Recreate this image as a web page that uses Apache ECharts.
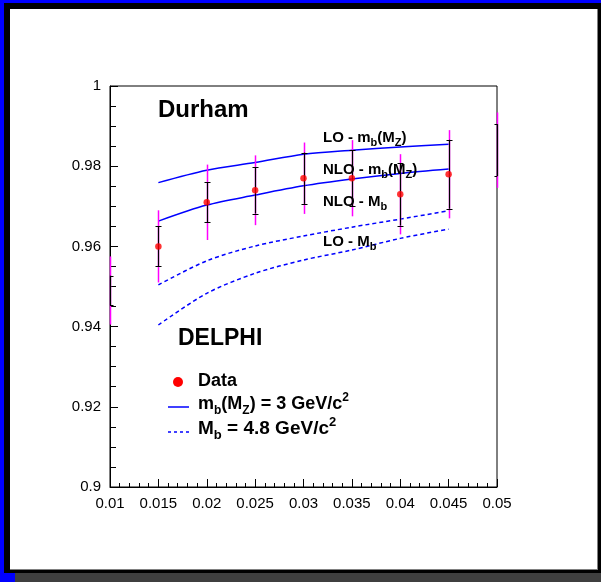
<!DOCTYPE html>
<html><head><meta charset="utf-8">
<script src="https://cdn.jsdelivr.net/npm/echarts@6/dist/echarts.min.js"></script>
<style>html,body{margin:0;padding:0;background:#fff}#c{width:601px;height:582px}</style>
</head><body><div id="c"></div>
<script>
// ---- data ----
const xTicksMin = 0.01, xTicksMax = 0.05;
const yTicksMin = 0.9, yTicksMax = 1;
const dataX    = [0.01, 0.015, 0.02, 0.025, 0.03, 0.035, 0.04, 0.045, 0.05];
const dataY    = [0.949, 0.960, 0.971, 0.974, 0.977, 0.977, 0.973, 0.978, 0.984];
const statErr  = [0.0037, 0.005, 0.005, 0.0058, 0.0064, 0.007, 0.0078, 0.0086, 0.0065];
const totErr   = [0.0085, 0.009, 0.0094, 0.0087, 0.0089, 0.0095, 0.010, 0.011, 0.0094];
const curveX   = [0.015, 0.02, 0.025, 0.03, 0.035, 0.04, 0.045];
const loMbMZ   = [0.9759, 0.9790, 0.9809, 0.9830, 0.9840, 0.9848, 0.9855];
const nloMbMZ  = [0.9663, 0.9703, 0.9728, 0.9751, 0.9768, 0.9782, 0.9793];
const nloMb    = [0.9504, 0.9564, 0.9601, 0.9626, 0.9648, 0.9668, 0.9689];
const loMb     = [0.9404, 0.9483, 0.9533, 0.9566, 0.9591, 0.9620, 0.9643];

const FONT = '"Liberation Sans", Arial, Helvetica, sans-serif';
const mctx = document.createElement('canvas').getContext('2d');
function tw(t, size) { mctx.font = 'bold ' + size + 'px ' + FONT; return mctx.measureText(t).width; }
function richText(x, base, parts, size, small) {
  const els = []; let cx = x;
  for (const [t, k] of parts) {
    const s = k === 'n' ? size : small;
    const dy = k === 'sub' ? Math.round(size * 0.27) : (k === 'sup' ? -Math.round(size * 0.42) : 0);
    els.push({ type: 'text', x: cx, y: base + dy - 0.35 * s, z: 50,
      style: { text: t, font: 'bold ' + s + 'px ' + FONT, fill: '#000', verticalAlign: 'middle', align: 'left' } });
    cx += tw(t, s);
  }
  return els;
}

const pairs = (xs, ys) => xs.map((x, i) => [x, ys[i]]);
const chart = echarts.init(document.getElementById('c'), null, { renderer: 'canvas' });

const graphics = [
  { type: 'rect', z: -10, shape: { x: 0, y: 0, width: 601, height: 582 }, style: { fill: '#0000ff' } },
  { type: 'rect', z: -10, shape: { x: 4, y: 3, width: 597, height: 570 }, style: { fill: '#000' } },
  { type: 'rect', z: -10, shape: { x: 15, y: 573, width: 586, height: 9 }, style: { fill: '#3f3f3f' } },
  { type: 'rect', z: -10, shape: { x: 10, y: 9, width: 588, height: 561 }, style: { fill: '#808080' } },
  { type: 'rect', z: -10, shape: { x: 10, y: 9, width: 587, height: 560 }, style: { fill: '#fff' } },
  // legend symbols
  { type: 'circle', z: 50, shape: { cx: 178, cy: 382, r: 5 }, style: { fill: '#ff0000' } },
  { type: 'line', z: 50, shape: { x1: 168, y1: 407, x2: 189, y2: 407 }, style: { stroke: '#0000ff', lineWidth: 1.5 } },
  { type: 'line', z: 50, shape: { x1: 168, y1: 432, x2: 189, y2: 432 }, style: { stroke: '#0000ff', lineWidth: 1.5, lineDash: [3, 3] } },
];
graphics.push(...richText(158, 119, [['Durham', 'n']], 24, 24));
graphics.push(...richText(178, 347, [['DELPHI', 'n']], 23, 23));
graphics.push(...richText(323, 143, [['LO - m', 'n'], ['b', 'sub'], ['(M', 'n'], ['Z', 'sub'], [')', 'n']], 15, 11));
graphics.push(...richText(323, 175, [['NLO - m', 'n'], ['b', 'sub'], ['(M', 'n'], ['Z', 'sub'], [')', 'n']], 15, 11));
graphics.push(...richText(323, 207, [['NLO - M', 'n'], ['b', 'sub']], 15, 11));
graphics.push(...richText(323, 247, [['LO - M', 'n'], ['b', 'sub']], 15, 11));
graphics.push(...richText(198, 387, [['Data', 'n']], 18, 12));
graphics.push(...richText(198, 410, [['m', 'n'], ['b', 'sub'], ['(M', 'n'], ['Z', 'sub'], [') = 3 GeV/c', 'n'], ['2', 'sup']], 18, 12));
graphics.push(...richText(198, 435, [['M', 'n'], ['b', 'sub'], [' = 4.8 GeV/c', 'n'], ['2', 'sup']], 19, 13));

const lineSeries = (ys, dashed) => ({
  type: 'line', data: pairs(curveX, ys), showSymbol: false, smooth: 0.3, z: 3,
  lineStyle: { color: '#0000ff', width: 1.5, type: dashed ? [4, 3] : 'solid' }, silent: true
});

const option = {
  animation: false,
  graphic: graphics,
  grid: { left: 110, top: 86, right: 104, bottom: 95, show: true, borderColor: '#000', borderWidth: 1, backgroundColor: 'transparent' },
  xAxis: {
    type: 'value', min: xTicksMin, max: xTicksMax, interval: 0.005,
    axisLine: { show: true, lineStyle: { color: '#000', width: 1 } },
    axisTick: { show: true, inside: true, length: 8, lineStyle: { color: '#000' } },
    minorTick: { show: true, splitNumber: 5, length: 4, lineStyle: { color: '#000' } },
    splitLine: { show: false },
    axisLabel: { color: '#000', fontSize: 15, fontFamily: FONT, margin: 9 }
  },
  yAxis: {
    type: 'value', min: yTicksMin, max: yTicksMax, interval: 0.02,
    axisLine: { show: true, lineStyle: { color: '#000', width: 1 } },
    axisTick: { show: true, inside: true, length: 8, lineStyle: { color: '#000' } },
    minorTick: { show: true, splitNumber: 4, length: 6, lineStyle: { color: '#000' } },
    splitLine: { show: false },
    axisLabel: { color: '#000', fontSize: 15, fontFamily: FONT, margin: 9 }
  },
  series: [
    lineSeries(loMbMZ, false),
    lineSeries(nloMbMZ, false),
    lineSeries(nloMb, true),
    lineSeries(loMb, true),
    {
      type: 'custom', z: 4, silent: true,
      data: dataX.map((x, i) => [x, dataY[i], statErr[i], totErr[i]]),
      renderItem: function (params, api) {
        const x = api.value(0), y = api.value(1), s = api.value(2), t = api.value(3);
        const L = api.coord([xTicksMin, y])[0], R = api.coord([xTicksMax, y])[0];
        const c = api.coord([x, y]);
        const tHi = api.coord([x, y + t]), tLo = api.coord([x, y - t]);
        const sHi = api.coord([x, y + s]), sLo = api.coord([x, y - s]);
        let cx = Math.round(c[0]) + 0.5;
        cx = Math.min(Math.max(cx, Math.round(L) + 0.5), Math.round(R) + 0.5);
        const cl = Math.max(cx - 3, L), cr = Math.min(cx + 3, R);
        return { type: 'group', children: [
          { type: 'line', shape: { x1: cx, y1: tHi[1], x2: cx, y2: tLo[1] }, style: { stroke: '#ff00ff', lineWidth: 1.5 } },
          { type: 'line', shape: { x1: cx, y1: sHi[1], x2: cx, y2: sLo[1] }, style: { stroke: '#000', lineWidth: 1.2 } },
          { type: 'line', shape: { x1: cl, y1: Math.round(sHi[1]) + 0.5, x2: cr, y2: Math.round(sHi[1]) + 0.5 }, style: { stroke: '#000', lineWidth: 1 } },
          { type: 'line', shape: { x1: cl, y1: Math.round(sLo[1]) + 0.5, x2: cr, y2: Math.round(sLo[1]) + 0.5 }, style: { stroke: '#000', lineWidth: 1 } }
        ] };
      }
    },
    {
      type: 'scatter', z: 5, silent: true, symbol: 'circle', symbolSize: 6.5,
      itemStyle: { color: '#ff0000' },
      data: dataX.map((x, i) => [x, dataY[i]]).filter(p => p[0] > xTicksMin && p[0] < xTicksMax)
    }
  ]
};
chart.setOption(option);
</script></body></html>
